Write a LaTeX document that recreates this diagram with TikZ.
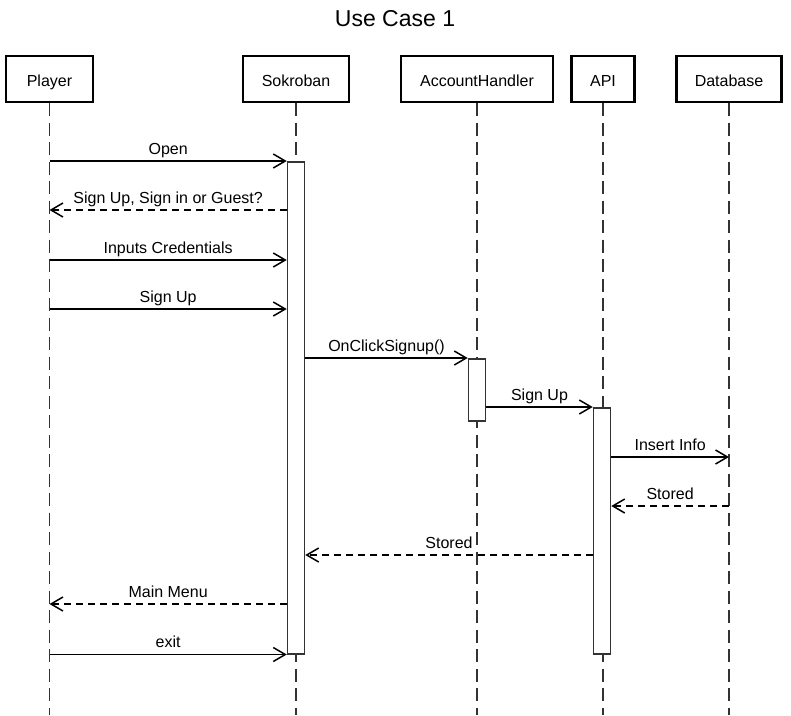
\documentclass[tikz,border=0pt]{standalone}
\usepackage{fontspec}
\setmainfont{Liberation Sans}
\usetikzlibrary{arrows.meta}
\definecolor{linegray}{HTML}{333333}
\tikzset{
  actor/.style={draw, line width=2.2pt, minimum height=46pt, inner sep=0pt,
    text height=15pt, text depth=0pt, font=\fontsize{16}{19}\selectfont},
  lifeline/.style={draw=linegray, line width=1.5pt, dash pattern=on 13pt off 6.5pt},
  activation/.style={draw=linegray, fill=white, line width=1.5pt,
    minimum width=17pt, anchor=north, inner sep=0pt},
  msg/.style={line width=1.5pt, -{Straight Barb[length=12pt,width=14pt]}},
  reply/.style={msg, dash pattern=on 7pt off 5pt},
  msglabel/.style={above=2.5pt, inner sep=0pt, text height=12pt, text depth=3.5pt,
    font=\fontsize{16}{19}\selectfont}
}

\begin{document}
\begin{tikzpicture}[x=1pt, y=-1pt]
        \useasboundingbox (0,0) rectangle (791,715);
        \node[anchor=base, font=\fontsize{23}{28}\selectfont] (title) at (395,26) {Use Case 1};

        % participants
        \node[actor, minimum width=87pt] (player) at (49.5,79) {Player};
        \node[actor, minimum width=106pt] (sokroban) at (296,79) {Sokroban};
        \node[actor, minimum width=152pt] (handler) at (477,79) {AccountHandler};
        \node[actor, minimum width=63pt] (api) at (603,79) {API};
        \node[actor, minimum width=105pt] (database) at (729,79) {Database};

        \coordinate (bottom) at (0,715);
        \foreach \who in {player, sokroban, handler, api, database}
            \draw[lifeline] (\who.south) -- (\who |- bottom);

        % activations
        \node[activation, minimum height=492pt] (sokact) at (296,161) {};
        \node[activation, minimum height=62pt] (handact) at (477,358) {};
        \node[activation, minimum height=246pt] (apiact) at (602,407) {};

        % message levels
        \foreach \i/\y in {2/210, 3/260, 4/309, 7/457, 8/506, 9/555, 10/604}
            \coordinate (m\i) at (0,\y);

        % messages
        \draw[msg] (player |- sokact.north) -- node[msglabel] {Open} (sokact.north west);
        \draw[reply] (sokact.west |- m2) -- node[msglabel] {Sign Up, Sign in or Guest?} (player |- m2);
        \draw[msg] (player |- m3) -- node[msglabel] {Inputs Credentials} (sokact.west |- m3);
        \draw[msg] (player |- m4) -- node[msglabel] {Sign Up} (sokact.west |- m4);
        \draw[msg] (sokact.east |- handact.north) -- node[msglabel] {OnClickSignup()} (handact.north west);
        \draw[msg] (handact.east |- apiact.north) -- node[msglabel] {Sign Up} (apiact.north west);
        \draw[msg] (apiact.east |- m7) -- node[msglabel] {Insert Info} (database |- m7);
        \draw[reply] (database |- m8) -- node[msglabel] {Stored} (apiact.east |- m8);
        \draw[reply] (apiact.west |- m9) -- node[msglabel] {Stored} (sokact.east |- m9);
        \draw[reply] (sokact.west |- m10) -- node[msglabel] {Main Menu} (player |- m10);
        \draw[msg] (player |- sokact.south) -- node[msglabel] {exit} (sokact.south west);
\end{tikzpicture}
\end{document}
